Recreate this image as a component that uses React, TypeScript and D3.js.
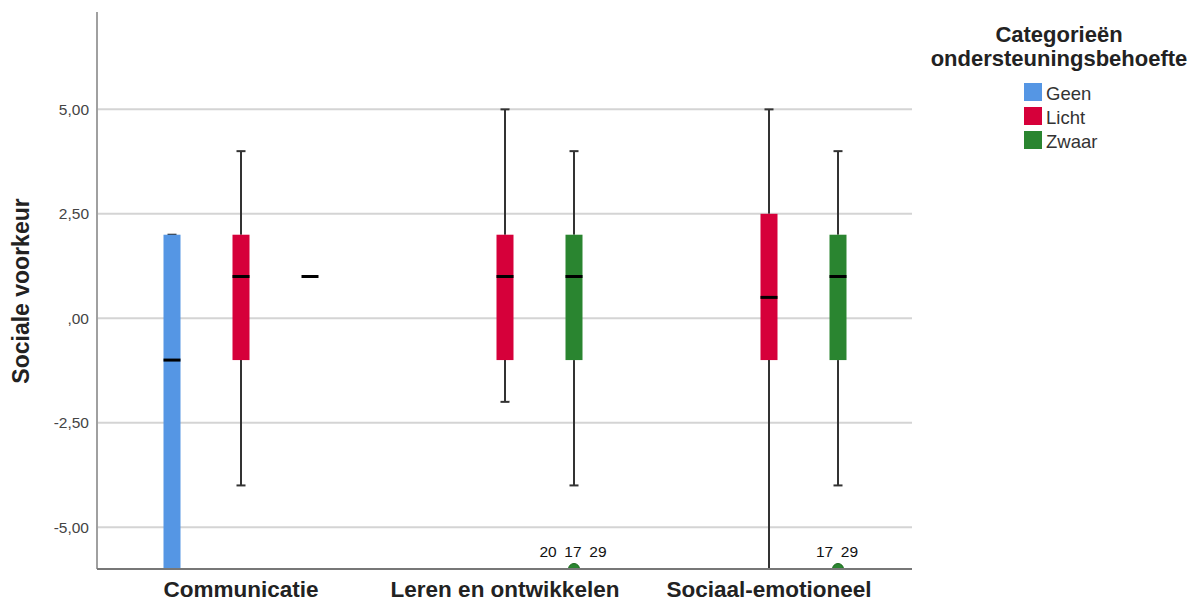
import React from "react";
import * as d3 from "d3";

const categories = ["Communicatie", "Leren en ontwikkelen", "Sociaal-emotioneel"];
const seriesNames = ["Geen", "Licht", "Zwaar"];
const seriesColors = ["#5596E4", "#D6003A", "#2A8530"];
const yTicks = [-5, -2.5, 0, 2.5, 5];

// per box: category, series, min, q1, median, q3, max
const boxCategory = ["Communicatie", "Communicatie", "Communicatie", "Leren en ontwikkelen", "Leren en ontwikkelen", "Sociaal-emotioneel", "Sociaal-emotioneel"];
const boxSeries = ["Geen", "Licht", "Zwaar", "Licht", "Zwaar", "Licht", "Zwaar"];
const boxMin = [-6, -4, 1, -2, -4, -6, -4];
const boxQ1 = [-6, -1, 1, -1, -1, -1, -1];
const boxMedian = [-1, 1, 1, 1, 1, 0.5, 1];
const boxQ3 = [2, 2, 1, 2, 2, 2.5, 2];
const boxMax = [2, 4, 1, 5, 4, 5, 4];

// outliers
const outCategory = ["Leren en ontwikkelen", "Sociaal-emotioneel"];
const outSeries = ["Zwaar", "Zwaar"];
const outValue = [-6, -6];
const outLabel = ["20 17 29", "17 29"];

const W = 1199;
const H = 603;
const left = 97;
const right = 912;
const top = 12;
const bottom = 569;

export default function App() {
  const y = d3.scaleLinear().domain([-6, 7.33]).range([bottom, top]);
  const x0 = d3.scaleBand().domain(categories).range([109, 901]).padding(0);
  const x1 = d3
    .scaleBand()
    .domain(seriesNames)
    .range([0, x0.bandwidth()])
    .paddingInner(0)
    .paddingOuter(0.413);
  const color = d3.scaleOrdinal<string, string>().domain(seriesNames).range(seriesColors);
  const fmt = (v: number) => {
    const s = d3.format(".2f")(v).replace("\u2212", "-").replace(".", ",");
    return s.replace(/^0,/, ",").replace(/^-0,/, "-,");
  };
  const boxW = 17;
  const capW = 9;
  const cx = (c: string, s: string) => (x0(c) as number) + (x1(s) as number) + x1.bandwidth() / 2;
  const font = "'Liberation Sans', Arial, sans-serif";

  return (
    <div style={{ position: "absolute", left: 0, top: 0 }}>
      <svg width={W} height={H} style={{ display: "block", background: "#fff" }} fontFamily={font}>
        <defs>
          <clipPath id="plotclip">
            <rect x={left} y={top} width={right - left} height={bottom - top} />
          </clipPath>
        </defs>
        {yTicks.map((t) => (
          <g key={t}>
            <line x1={left} x2={right} y1={y(t)} y2={y(t)} stroke="#d4d4d4" strokeWidth={2} />
            <text x={89} y={y(t)} dy="0.35em" textAnchor="end" fontSize={15.5} fill="#444">
              {fmt(t)}
            </text>
          </g>
        ))}
        <g clipPath="url(#plotclip)">
          {boxCategory.map((c, i) => {
            const s = boxSeries[i];
            const xc = cx(c, s);
            const col = color(s);
            return (
              <g key={i}>
                <line x1={xc} x2={xc} y1={y(boxMax[i])} y2={y(boxQ3[i])} stroke="#333" strokeWidth={2} />
                <line x1={xc} x2={xc} y1={y(boxQ1[i])} y2={y(boxMin[i])} stroke="#333" strokeWidth={2} />
                {boxMax[i] !== boxMedian[i] || boxMin[i] !== boxMedian[i] ? (
                  <>
                    <line x1={xc - capW / 2} x2={xc + capW / 2} y1={y(boxMax[i])} y2={y(boxMax[i])} stroke="#333" strokeWidth={2} />
                    <line x1={xc - capW / 2} x2={xc + capW / 2} y1={y(boxMin[i])} y2={y(boxMin[i])} stroke="#333" strokeWidth={2} />
                  </>
                ) : null}
                {boxQ3[i] !== boxQ1[i] ? (
                  <rect x={xc - boxW / 2} width={boxW} y={y(boxQ3[i])} height={y(boxQ1[i]) - y(boxQ3[i])} fill={col} />
                ) : null}
                <line x1={xc - boxW / 2} x2={xc + boxW / 2} y1={y(boxMedian[i])} y2={y(boxMedian[i])} stroke="#000" strokeWidth={3} />
              </g>
            );
          })}
          {outCategory.map((c, i) => (
            <circle key={i} cx={cx(c, outSeries[i])} cy={y(outValue[i])} r={5.5} fill={color(outSeries[i])} stroke="#1e6a1e" strokeWidth={1} />
          ))}
        </g>
        {outCategory.map((c, i) => (
          <text key={i} x={cx(c, outSeries[i]) - 1} y={y(outValue[i]) - 12} textAnchor="middle" fontSize={15.5} fill="#111">
            {outLabel[i].split(" ").join("\u2002")}
          </text>
        ))}
        <line x1={left} x2={left} y1={top} y2={bottom} stroke="#a0a0a0" strokeWidth={2} />
        <line x1={left} x2={right} y1={bottom} y2={bottom} stroke="#777" strokeWidth={2} />
        {categories.map((c) => (
          <text key={c} x={(x0(c) as number) + x0.bandwidth() / 2} y={597} textAnchor="middle" fontSize={22.5} fontWeight="bold" fill="#222">
            {c}
          </text>
        ))}
        <text transform={`translate(29,291) rotate(-90)`} textAnchor="middle" fontSize={23} fontWeight="bold" fill="#222">
          Sociale voorkeur
        </text>
        <text x={1059} y={42} textAnchor="middle" fontSize={22} fontWeight="bold" fill="#222">
          Categorieën
        </text>
        <text x={1059} y={66} textAnchor="middle" fontSize={22} fontWeight="bold" fill="#222">
          ondersteuningsbehoefte
        </text>
        {seriesNames.map((s, i) => (
          <g key={s} transform={`translate(1024,${83 + i * 24})`}>
            <rect x={0} y={0} width={18} height={18} fill={color(s)} />
            <text x={22} y={17} fontSize={18.5} fill="#333">
              {s}
            </text>
          </g>
        ))}
      </svg>
    </div>
  );
}
